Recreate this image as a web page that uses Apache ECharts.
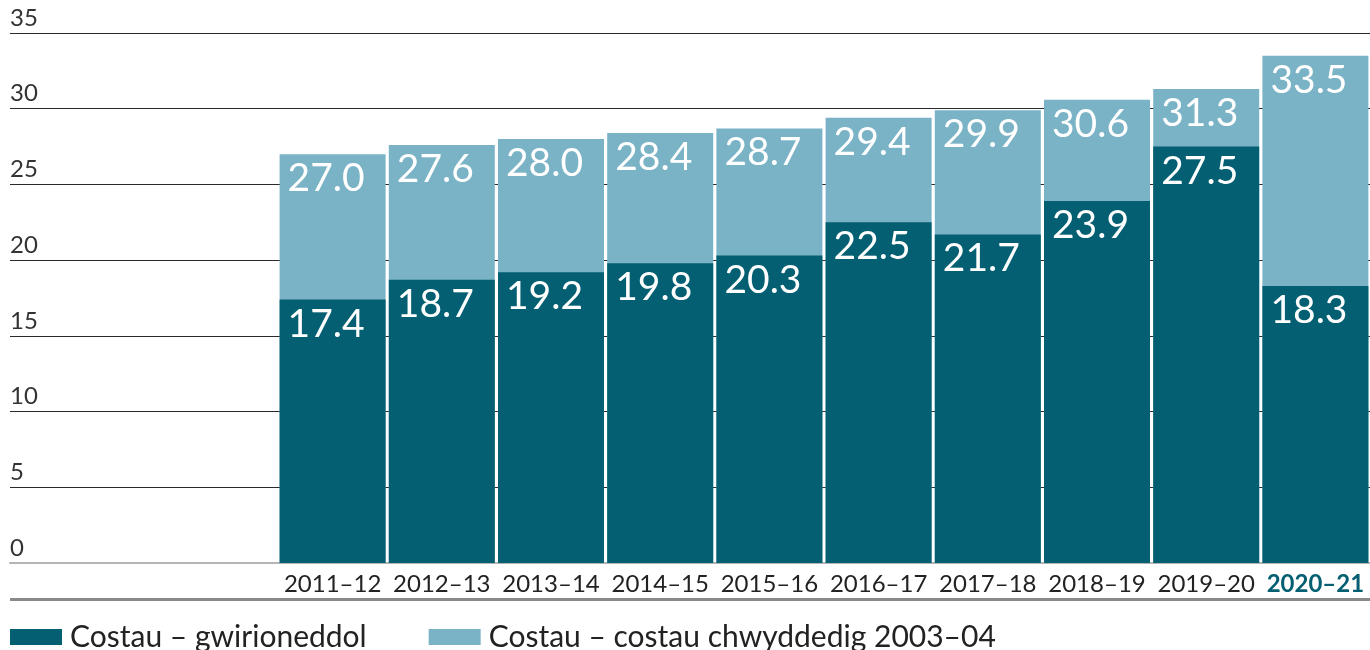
<!DOCTYPE html>
<html>
<head>
<meta charset="utf-8">
<script src="https://cdn.jsdelivr.net/npm/echarts@6/dist/echarts.min.js"></script>
<style>
  html, body { margin: 0; padding: 0; background: #fff; }
  #chart { width: 1370px; height: 650px; }
</style>
</head>
<body>
<div id="chart"></div>
<script>
var years = ['2011–12', '2012–13', '2013–14', '2014–15', '2015–16',
             '2016–17', '2017–18', '2018–19', '2019–20', '2020–21'];
// costau chwyddedig 2003-04 (light bars, behind)
var inflated = [27.0, 27.6, 28.0, 28.4, 28.7, 29.4, 29.9, 30.6, 31.3, 33.5];
// costau gwirioneddol (dark bars, front)
var actual = [17.4, 18.7, 19.2, 19.8, 20.3, 22.5, 21.7, 23.9, 27.5, 18.3];
var yTicks = [0, 5, 10, 15, 20, 25, 30, 35];

var nameActual = 'Costau – gwirioneddol';
var nameInflated = 'Costau – costau chwyddedig 2003–04';

var dark = '#035f71';
var light = '#79b3c5';
var font = 'Lato';

var chart = echarts.init(document.getElementById('chart'));

var barLabel = {
  show: true,
  position: 'insideTopLeft',
  distance: 0,
  offset: [8, 5],
  color: '#fff',
  fontFamily: font,
  fontSize: 39,
  formatter: function (p) { return p.value.toFixed(1); }
};

var option = {
  animation: false,
  textStyle: { fontFamily: font },
  grid: [
    { left: 10, right: 0, top: 33, bottom: 87 },
    { left: 278, right: 0, top: 33, bottom: 87 }
  ],
  legend: {
    data: [nameActual, nameInflated],
    icon: 'rect',
    left: 10,
    top: 622,
    padding: 0,
    itemWidth: 52,
    itemHeight: 16,
    itemGap: 62,
    textStyle: { fontFamily: font, fontSize: 30, color: '#222', padding: [0, 0, 0, 3] }
  },
  xAxis: [
    {
      type: 'value', gridIndex: 0, min: 0, max: 1,
      splitLine: { show: false }, axisTick: { show: false },
      axisLabel: { show: false },
      axisLine: { show: true, lineStyle: { color: '#b5b5b5', width: 2 } }
    },
    {
      type: 'category', gridIndex: 1, data: years,
      axisLine: { show: false }, axisTick: { show: false },
      axisLabel: {
        interval: 0,
        margin: 9,
        fontFamily: font, fontSize: 24, color: '#222',
        formatter: function (v, i) {
          return i === years.length - 1 ? '{b|' + v + '}' : v;
        },
        rich: { b: { fontFamily: font, fontSize: 24, fontWeight: 'bold', color: dark } }
      }
    }
  ],
  yAxis: [
    {
      type: 'value', gridIndex: 0, min: yTicks[0], max: yTicks[yTicks.length - 1], interval: 5,
      axisLine: { show: false }, axisTick: { show: false },
      splitLine: { show: true, lineStyle: { color: '#2a2a2a', width: 1 } },
      axisLabel: {
        inside: true, margin: 0,
        verticalAlign: 'bottom', padding: [0, 0, 3, 0],
        fontFamily: font, fontSize: 24, color: '#333'
      }
    },
    {
      type: 'value', gridIndex: 1, min: yTicks[0], max: yTicks[yTicks.length - 1], interval: 5,
      show: false
    }
  ],
  series: [
    {
      name: nameInflated, type: 'bar', xAxisIndex: 1, yAxisIndex: 1,
      data: inflated, barWidth: 106, barGap: '-100%',
      itemStyle: { color: light },
      label: barLabel
    },
    {
      name: nameActual, type: 'bar', xAxisIndex: 1, yAxisIndex: 1,
      data: actual, barWidth: 106, barGap: '-100%',
      itemStyle: { color: dark },
      label: barLabel
    }
  ],
  graphic: [
    {
      type: 'rect',
      shape: { x: 10, y: 598, width: 1360, height: 3 },
      style: { fill: '#8a8a8a' }
    }
  ]
};

chart.setOption(option);
</script>
</body>
</html>
